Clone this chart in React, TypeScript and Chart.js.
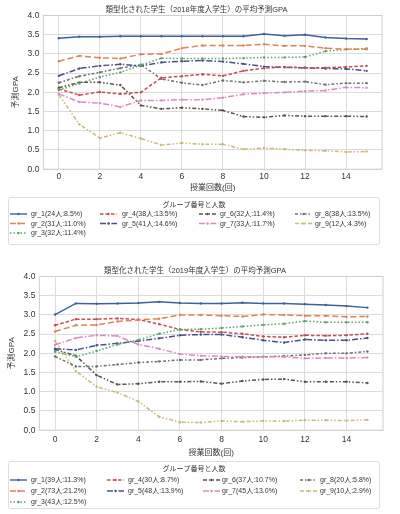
import { useEffect, useRef } from "react";
import { Chart, registerables } from "chart.js";

Chart.register(...registerables);

const sessions = [0, 1, 2, 3, 4, 5, 6, 7, 8, 9, 10, 11, 12, 13, 14, 15];
const xTicks = [0, 2, 4, 6, 8, 10, 12, 14];
const yTicks = [0, 0.5, 1, 1.5, 2, 2.5, 3, 3.5, 4];

// 2018年度入学生
const labels2018 = [
  "gr_1(24人:8.5%)",
  "gr_2(31人:11.0%)",
  "gr_3(32人:11.4%)",
  "gr_4(38人:13.5%)",
  "gr_5(41人:14.6%)",
  "gr_6(32人:11.4%)",
  "gr_7(33人:11.7%)",
  "gr_8(38人:13.5%)",
  "gr_9(12人:4.3%)",
];
const gr1_2018 = [3.41, 3.45, 3.45, 3.46, 3.46, 3.46, 3.46, 3.46, 3.46, 3.46, 3.52, 3.47, 3.5, 3.43, 3.4, 3.39];
const gr2_2018 = [2.81, 2.95, 2.9, 2.88, 2.99, 3.0, 3.15, 3.22, 3.22, 3.22, 3.25, 3.21, 3.21, 3.15, 3.12, 3.12];
const gr3_2018 = [2.06, 2.23, 2.4, 2.52, 2.71, 2.89, 2.88, 2.88, 2.88, 2.89, 2.91, 2.91, 2.92, 3.07, 3.12, 3.14];
const gr4_2018 = [2.09, 1.93, 2.01, 1.96, 2.0, 2.38, 2.42, 2.47, 2.43, 2.56, 2.63, 2.66, 2.64, 2.64, 2.66, 2.69];
const gr5_2018 = [2.43, 2.62, 2.69, 2.73, 2.69, 2.78, 2.81, 2.83, 2.8, 2.74, 2.67, 2.65, 2.64, 2.62, 2.61, 2.56];
const gr6_2018 = [2.12, 2.26, 2.26, 2.19, 1.66, 1.57, 1.6, 1.57, 1.53, 1.37, 1.35, 1.4, 1.38, 1.38, 1.38, 1.37];
const gr7_2018 = [1.96, 1.75, 1.72, 1.62, 1.79, 1.79, 1.81, 1.81, 1.86, 1.95, 1.98, 2.0, 2.03, 2.05, 2.13, 2.12];
const gr8_2018 = [2.25, 2.42, 2.52, 2.63, 2.72, 2.35, 2.25, 2.19, 2.31, 2.26, 2.3, 2.27, 2.28, 2.2, 2.24, 2.24];
const gr9_2018 = [1.94, 1.17, 0.81, 0.95, 0.8, 0.63, 0.68, 0.65, 0.65, 0.52, 0.55, 0.52, 0.49, 0.48, 0.45, 0.46];

// 2019年度入学生
const labels2019 = [
  "gr_1(39人:11.3%)",
  "gr_2(73人:21.2%)",
  "gr_3(43人:12.5%)",
  "gr_4(30人:8.7%)",
  "gr_5(48人:13.9%)",
  "gr_6(37人:10.7%)",
  "gr_7(45人:13.0%)",
  "gr_8(20人:5.8%)",
  "gr_9(10人:2.9%)",
];
const gr1_2019 = [3.01, 3.3, 3.29, 3.3, 3.31, 3.34, 3.31, 3.3, 3.3, 3.32, 3.3, 3.3, 3.28, 3.26, 3.23, 3.19];
const gr2_2019 = [2.57, 2.73, 2.74, 2.83, 2.87, 2.9, 3.0, 3.0, 2.98, 2.96, 3.01, 3.0, 2.98, 2.98, 2.95, 2.96];
const gr3_2019 = [2.04, 1.91, 2.06, 2.23, 2.35, 2.51, 2.62, 2.63, 2.66, 2.7, 2.74, 2.77, 2.84, 2.81, 2.81, 2.81];
const gr4_2019 = [2.73, 2.89, 2.89, 2.91, 2.88, 2.76, 2.62, 2.56, 2.55, 2.51, 2.44, 2.42, 2.47, 2.46, 2.47, 2.51];
const gr5_2019 = [2.12, 2.09, 2.21, 2.26, 2.32, 2.39, 2.47, 2.49, 2.49, 2.42, 2.34, 2.28, 2.36, 2.34, 2.34, 2.4];
const gr6_2019 = [2.1, 1.94, 1.43, 1.19, 1.21, 1.26, 1.26, 1.27, 1.21, 1.28, 1.32, 1.33, 1.26, 1.26, 1.26, 1.23];
const gr7_2019 = [2.22, 2.4, 2.47, 2.45, 2.23, 2.12, 1.98, 1.94, 1.92, 1.91, 1.91, 1.91, 1.87, 1.88, 1.88, 1.89];
const gr8_2019 = [1.92, 1.66, 1.66, 1.71, 1.76, 1.79, 1.83, 1.83, 1.87, 1.89, 1.91, 1.93, 1.96, 2.0, 2.0, 2.05];
const gr9_2019 = [2.32, 1.54, 1.13, 0.98, 0.75, 0.35, 0.21, 0.2, 0.24, 0.22, 0.24, 0.24, 0.26, 0.26, 0.25, 0.27];

const COLORS = ["#3d619c", "#dd8452", "#55a868", "#c44e52", "#4b5089", "#5b514b", "#da8bc3", "#707070", "#ccb974"];
const DASHES = [
  [],
  [6, 3],
  [1.5, 2],
  [3.5, 2],
  [6, 2, 1.5, 2],
  [4, 2, 1.5, 2, 1.5, 2],
  [6, 2, 1.5, 2],
  [3, 2, 1.5, 2],
  [4, 2, 1.5, 2, 1.5, 2],
];

const FONT = "'Liberation Sans', 'Noto Sans CJK JP', sans-serif";
const TEXT = "#333333";
const GRID = "#dcdcdc";

interface LegendLayout {
  boxTop: number;
  boxBottom: number;
  titleY: number;
  rowY: number[];
  sampleX: number[];
  textX: number[];
}

interface PanelProps {
  title: string;
  labels: string[];
  series: number[][];
  height: number;
  pad: { left: number; right: number; top: number; bottom: number };
  titleTop: number;
  tickPad: number;
  legend: LegendLayout;
}

function GpaChart({ title, labels, series, height, pad, titleTop, tickPad, legend }: PanelProps) {
  const canvasRef = useRef<HTMLCanvasElement>(null);

  useEffect(() => {
    if (!canvasRef.current) return;
    const ctx = canvasRef.current.getContext("2d");
    if (!ctx) return;

    const frame = {
      id: "frame",
      afterDraw(chart: Chart) {
        const { ctx, chartArea: a } = chart;
        ctx.save();
        ctx.strokeStyle = "#cfcfcf";
        ctx.lineWidth = 1;
        ctx.strokeRect(a.left, a.top, a.right - a.left, a.bottom - a.top);
        ctx.restore();
      },
    };

    const boxLegend = {
      id: "boxLegend",
      afterDraw(chart: Chart) {
        const c = chart.ctx;
        c.save();
        c.fillStyle = "#ffffff";
        c.strokeStyle = "#dddddd";
        c.lineWidth = 1;
        c.beginPath();
        c.roundRect(8.5, legend.boxTop + 0.5, 371, legend.boxBottom - legend.boxTop, 2);
        c.fill();
        c.stroke();

        c.fillStyle = TEXT;
        c.font = `7px ${FONT}`;
        c.textAlign = "center";
        c.textBaseline = "middle";
        c.fillText("グループ番号と人数", 194, legend.titleY);

        c.textAlign = "left";
        chart.data.datasets.forEach((ds, i) => {
          const col = i < 3 ? 0 : Math.floor((i - 3) / 2) + 1;
          const row = i < 3 ? i : (i - 3) % 2;
          const y = legend.rowY[row];
          const sx = legend.sampleX[col];
          c.strokeStyle = COLORS[i];
          c.lineWidth = 1.4;
          c.setLineDash(DASHES[i]);
          c.beginPath();
          c.moveTo(sx, y);
          c.lineTo(sx + 17, y);
          c.stroke();
          c.setLineDash([]);
          c.fillStyle = COLORS[i];
          c.beginPath();
          c.arc(sx + 8.5, y, 1.2, 0, Math.PI * 2);
          c.fill();
          c.fillStyle = TEXT;
          c.fillText(String(ds.label), legend.textX[col], y + 0.5);
        });
        c.restore();
      },
    };

    const chart = new Chart(ctx, {
      type: "line",
      data: {
        datasets: series.map((s, i) => ({
          label: labels[i],
          data: s.map((v, j) => ({ x: sessions[j], y: v })),
          borderColor: COLORS[i],
          backgroundColor: COLORS[i],
          borderDash: DASHES[i],
          borderWidth: 1.5,
          pointRadius: 1.2,
          pointBorderWidth: 0,
          pointHoverRadius: 0,
          tension: 0,
        })),
      },
      options: {
        animation: false,
        responsive: true,
        maintainAspectRatio: false,
        layout: { padding: pad },
        plugins: {
          legend: { display: false },
          tooltip: { enabled: false },
          title: {
            display: true,
            text: title,
            color: TEXT,
            font: { family: FONT, size: 7.5, weight: "normal" },
            padding: { top: titleTop, bottom: 1.5 },
          },
        },
        scales: {
          x: {
            type: "linear",
            min: -0.75,
            max: 15.75,
            afterBuildTicks: (axis) => {
              axis.ticks = xTicks.map((v) => ({ value: v }));
            },
            grid: { color: GRID, drawTicks: false },
            border: { display: false },
            ticks: { color: TEXT, font: { family: FONT, size: 8.5 }, padding: tickPad },
            title: {
              display: true,
              text: "授業回数(回)",
              color: TEXT,
              font: { family: FONT, size: 8 },
              padding: { top: 0, bottom: 0 },
            },
          },
          y: {
            min: 0,
            max: 4,
            afterBuildTicks: (axis) => {
              axis.ticks = yTicks.map((v) => ({ value: v }));
            },
            grid: { color: GRID, drawTicks: false },
            border: { display: false },
            ticks: {
              color: TEXT,
              font: { family: FONT, size: 8.5 },
              padding: 4,
              callback: (v) => Number(v).toFixed(1),
            },
            title: {
              display: true,
              text: "予測GPA",
              color: TEXT,
              font: { family: FONT, size: 8 },
              padding: { top: 0, bottom: 3 },
            },
          },
        },
      },
      plugins: [frame, boxLegend],
    });

    return () => {
      chart.destroy();
    };
  }, [title, labels, series, height, pad, titleTop, tickPad, legend]);

  return (
    <div style={{ position: "relative", width: "400px", height: `${height}px` }}>
      <canvas ref={canvasRef} />
    </div>
  );
}

const series2018 = [gr1_2018, gr2_2018, gr3_2018, gr4_2018, gr5_2018, gr6_2018, gr7_2018, gr8_2018, gr9_2018];
const series2019 = [gr1_2019, gr2_2019, gr3_2019, gr4_2019, gr5_2019, gr6_2019, gr7_2019, gr8_2019, gr9_2019];

const legend2018: LegendLayout = {
  boxTop: 197,
  boxBottom: 244,
  titleY: 205,
  rowY: [214, 223.5, 233],
  sampleX: [10, 100, 199, 295],
  textX: [31, 122, 220, 315],
};
const legend2019: LegendLayout = {
  boxTop: 211,
  boxBottom: 258,
  titleY: 219,
  rowY: [230, 241, 252],
  sampleX: [10, 107, 203, 300],
  textX: [31, 128, 222, 320],
};
const pad2018 = { left: 11, right: 18, top: 0, bottom: 57 };
const pad2019 = { left: 7, right: 17, top: 0, bottom: 56 };

export default function App() {
  useEffect(() => {
    document.body.style.margin = "0";
  }, []);

  return (
    <div style={{ width: "400px", background: "#ffffff" }}>
      <GpaChart
        title="類型化された学生（2018年度入学生）の平均予測GPA"
        labels={labels2018}
        series={series2018}
        height={250}
        pad={pad2018}
        titleTop={5}
        tickPad={2}
        legend={legend2018}
      />
      <GpaChart
        title="類型化された学生（2019年度入学生）の平均予測GPA"
        labels={labels2019}
        series={series2019}
        height={264}
        pad={pad2019}
        titleTop={16}
        tickPad={4}
        legend={legend2019}
      />
    </div>
  );
}
